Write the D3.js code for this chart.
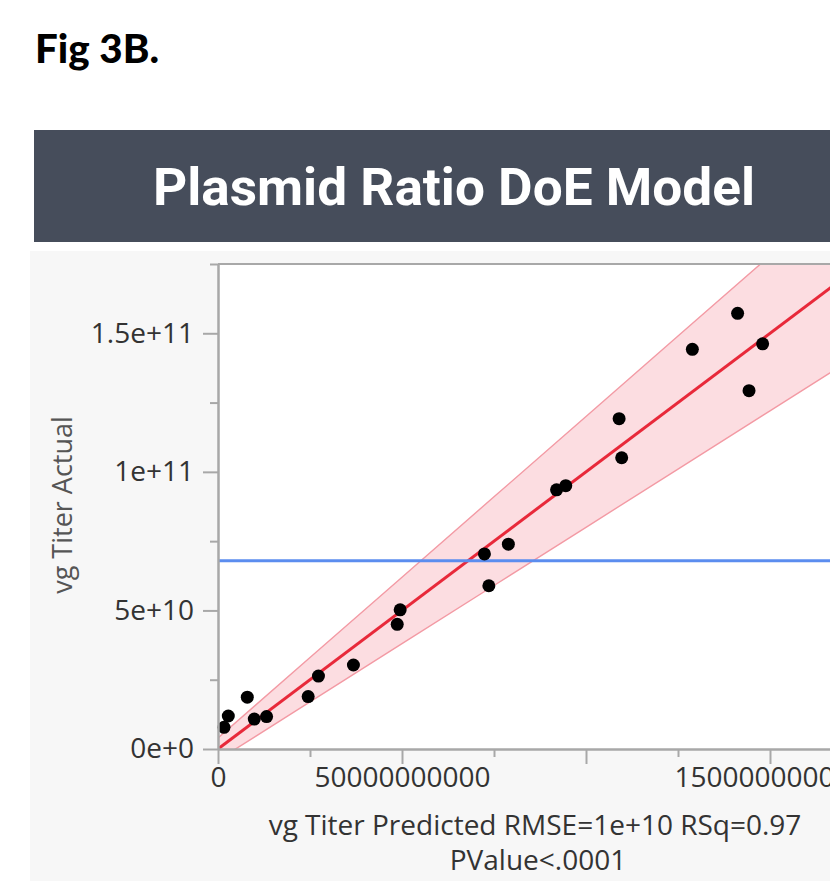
<!DOCTYPE html>
<html>
<head>
<meta charset="utf-8">
<script src="https://cdn.jsdelivr.net/npm/d3@7"></script>
<style>
  html, body { margin: 0; padding: 0; background: #ffffff; }
  svg { display: block; }
</style>
</head>
<body>
<svg id="chart" width="830" height="881"></svg>
<script>
// ---------- data (values in vg/mL) ----------
const predicted = [1.63e9, 2.80e9, 7.96e9, 9.86e9, 13.2e9, 24.5e9, 27.3e9, 36.8e9, 48.7e9, 49.5e9,
  72.4e9, 73.6e9, 78.9e9, 92.0e9, 94.5e9, 109.0e9, 109.7e9, 128.9e9, 141.2e9, 144.3e9, 148.0e9];
const actual = [7.83e9, 11.9e9, 18.7e9, 10.8e9, 11.7e9, 18.9e9, 26.3e9, 30.3e9, 45.0e9, 50.2e9,
  70.4e9, 58.9e9, 73.9e9, 93.5e9, 95.0e9, 119.2e9, 105.1e9, 144.2e9, 157.2e9, 129.3e9, 146.2e9];
const meanActual = 67.9e9;
const fitLine = [[0, 0], [175e9, 175e9]];
const bandPred = [0, 25e9, 50e9, 75e9, 100e9, 125e9, 150e9, 175e9];
const bandUpper = [4e9, 33e9, 62e9, 91e9, 120e9, 149e9, 178e9, 207e9];
const bandLower = [-4e9, 17e9, 38e9, 59e9, 80e9, 101e9, 122e9, 143e9];

const yMajor = [0, 50e9, 100e9, 150e9];
const yMajorLabels = ["0e+0", "5e+10", "1e+11", "1.5e+11"];
const yMinor = [25e9, 75e9, 125e9, 175e9];
const xMajor = [0, 50e9, 100e9, 150e9];
const xMajorLabels = ["0", "50000000000", "", "150000000000"];
const xMinor = [25e9, 75e9, 125e9, 175e9];

const figLabel = "Fig 3B.";
const titleText = "Plasmid Ratio DoE Model";
const yTitle = "vg Titer Actual";
const xTitle1 = "vg Titer Predicted RMSE=1e+10 RSq=0.97";
const xTitle2 = "PValue<.0001";

// ---------- layout ----------
const svg = d3.select("#chart");
const plotL = 218, plotT = 264, plotB = 749;
const x = d3.scaleLinear().domain([0, 175e9]).range([plotL, plotL + 644]);
const y = d3.scaleLinear().domain([0, 175e9]).range([plotB, plotT]);
const font = "'Open Sans', 'Noto Sans', sans-serif";

// figure label
svg.append("text").attr("x", 35).attr("y", 63)
  .attr("font-family", "Lato, 'DejaVu Sans', sans-serif").attr("font-weight", 900)
  .attr("font-size", 40).attr("fill", "#000")
  .attr("textLength", 124).attr("lengthAdjust", "spacingAndGlyphs")
  .text(figLabel);

// title bar
svg.append("rect").attr("x", 34).attr("y", 130).attr("width", 800).attr("height", 112)
  .attr("fill", "#464d5b");
svg.append("text").attr("x", 153).attr("y", 205)
  .attr("font-family", "Roboto, 'Noto Sans', sans-serif").attr("font-weight", 700)
  .attr("font-size", 52).attr("fill", "#ffffff")
  .attr("textLength", 602).attr("lengthAdjust", "spacingAndGlyphs")
  .text(titleText);

// panel
svg.append("rect").attr("x", 30).attr("y", 251).attr("width", 800).attr("height", 630)
  .attr("fill", "#f7f7f7");
svg.append("rect").attr("x", plotL).attr("y", plotT).attr("width", 830 - plotL).attr("height", plotB - plotT)
  .attr("fill", "#ffffff");

svg.append("clipPath").attr("id", "plotclip").append("rect")
  .attr("x", plotL).attr("y", plotT).attr("width", 830 - plotL).attr("height", plotB - plotT);
const g = svg.append("g").attr("clip-path", "url(#plotclip)");

// confidence band
const bandData = bandPred.map((p, i) => ({p, u: bandUpper[i], l: bandLower[i]}));
g.append("path").datum(bandData)
  .attr("d", d3.area().x(d => x(d.p)).y0(d => y(d.l)).y1(d => y(d.u)))
  .attr("fill", "#fcdde1");
g.append("path").datum(bandData)
  .attr("d", d3.line().x(d => x(d.p)).y(d => y(d.u)))
  .attr("fill", "none").attr("stroke", "#f39aa4").attr("stroke-width", 1.4);
g.append("path").datum(bandData)
  .attr("d", d3.line().x(d => x(d.p)).y(d => y(d.l)))
  .attr("fill", "none").attr("stroke", "#f39aa4").attr("stroke-width", 1.4);

// fit line
g.append("path").datum(fitLine)
  .attr("d", d3.line().x(d => x(d[0])).y(d => y(d[1])))
  .attr("fill", "none").attr("stroke", "#e8293a").attr("stroke-width", 3);

// mean line
g.append("line").attr("x1", plotL).attr("x2", 830)
  .attr("y1", y(meanActual)).attr("y2", y(meanActual))
  .attr("stroke", "#5b8def").attr("stroke-width", 3);

// points
svg.append("g").selectAll("circle").data(predicted.map((p, i) => [p, actual[i]]))
  .join("circle")
  .attr("cx", d => x(d[0])).attr("cy", d => y(d[1])).attr("r", 6.5)
  .attr("fill", "#000");

// top frame
svg.append("line").attr("x1", plotL).attr("x2", 830).attr("y1", plotT).attr("y2", plotT)
  .attr("stroke", "#a8a8a8").attr("stroke-width", 2);

// axes
const axisColor = "#a8a8a8", labelColor = "#333333";
function styleAxis(sel) {
  sel.select(".domain").attr("stroke", axisColor).attr("stroke-width", 2);
  sel.selectAll(".tick line").attr("stroke", axisColor).attr("stroke-width", 2);
  sel.selectAll(".tick text").attr("fill", labelColor)
    .attr("font-family", font).attr("font-size", 28);
}

const yAxisMinor = svg.append("g").attr("transform", `translate(${plotL},0)`)
  .call(d3.axisLeft(y).tickValues(yMinor).tickSize(8).tickSizeOuter(0).tickFormat(""));
styleAxis(yAxisMinor);
const yAxis = svg.append("g").attr("transform", `translate(${plotL},0)`)
  .call(d3.axisLeft(y).tickValues(yMajor).tickSize(15).tickSizeOuter(0)
    .tickPadding(9).tickFormat((d, i) => yMajorLabels[i]));
styleAxis(yAxis);

const xAxisMinor = svg.append("g").attr("transform", `translate(0,${plotB})`)
  .call(d3.axisBottom(x).tickValues(xMinor).tickSize(8).tickSizeOuter(0).tickFormat(""));
styleAxis(xAxisMinor);
const xAxis = svg.append("g").attr("transform", `translate(0,${plotB})`)
  .call(d3.axisBottom(x).tickValues(xMajor).tickSize(15).tickSizeOuter(0)
    .tickPadding(3).tickFormat((d, i) => xMajorLabels[i]));
styleAxis(xAxis);

// axis titles
svg.append("text").attr("transform", "translate(72,505) rotate(-90)")
  .attr("text-anchor", "middle").attr("font-family", font).attr("font-size", 27)
  .attr("fill", "#555555").text(yTitle);
svg.append("text").attr("x", 535).attr("y", 835).attr("text-anchor", "middle")
  .attr("font-family", font).attr("font-size", 28).attr("fill", labelColor).text(xTitle1);
svg.append("text").attr("x", 538).attr("y", 870).attr("text-anchor", "middle")
  .attr("font-family", font).attr("font-size", 28).attr("fill", labelColor).text(xTitle2);
</script>
</body>
</html>
